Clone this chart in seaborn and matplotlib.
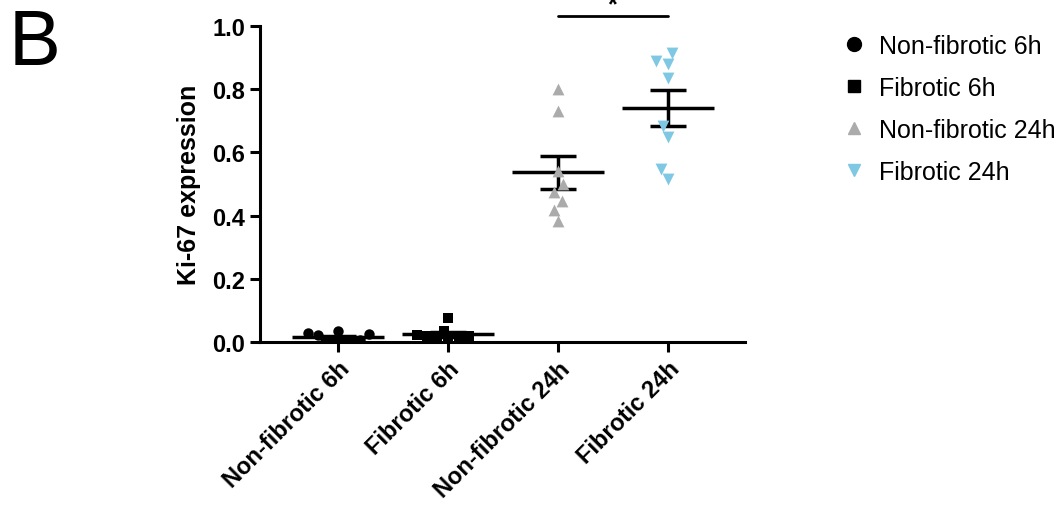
import numpy as np
import pandas as pd
import matplotlib
matplotlib.use("Agg")
import matplotlib.pyplot as plt
from matplotlib.lines import Line2D
import seaborn as sns

groups = ["Non-fibrotic 6h", "Fibrotic 6h", "Non-fibrotic 24h", "Fibrotic 24h"]
nonfib_6h = [0.0, 0.035, 0.022, 0.028, 0.005, 0.024, 0.004, 0.003]
fib_6h = [0.005, 0.036, 0.02, 0.075, 0.022, 0.02, 0.005, 0.01]
nonfib_24h = [0.80, 0.73, 0.54, 0.50, 0.475, 0.446, 0.418, 0.383]
fib_24h = [0.89, 0.88, 0.915, 0.835, 0.684, 0.65, 0.547, 0.516]

values = [nonfib_6h, fib_6h, nonfib_24h, fib_24h]
markers = ["o", "s", "^", "v"]
colors = ["black", "black", "#ababab", "#7ec8e3"]
sizes = [7.5, 7.5, 8.5, 8.5]

df = pd.concat([pd.DataFrame({"group": g, "ki67": v}) for g, v in zip(groups, values)])

sns.set_style("ticks")
plt.rcParams["font.family"] = ["Liberation Sans", "DejaVu Sans"]
plt.rcParams["text.color"] = "black"
plt.rcParams["axes.labelcolor"] = "black"
plt.rcParams["xtick.color"] = "black"
plt.rcParams["ytick.color"] = "black"

fig = plt.figure(figsize=(10.57, 5.06), dpi=100)
ax = fig.add_axes([0.246, 0.322, 0.459, 0.625])

for g, m, c, s in zip(groups, markers, colors, sizes):
    sns.swarmplot(data=df[df["group"] == g], x="group", y="ki67", order=groups,
                  marker=m, color=c, size=s, linewidth=0, ax=ax, zorder=5)

# mean +/- SEM
for i, v in enumerate(values):
    v = np.array(v)
    mean = v.mean()
    sem = v.std(ddof=1) / np.sqrt(len(v))
    ax.hlines(mean, i - 0.42, i + 0.42, color="black", lw=2.5, zorder=3)
    ax.errorbar(i, mean, yerr=sem, color="black", lw=2.5, capsize=13,
                capthick=2.5, zorder=3)

# significance bar
ax.plot([2, 3], [1.03, 1.03], color="black", lw=2, clip_on=False)
ax.text(2.5, 1.03, "*", ha="center", va="bottom", fontsize=18,
        fontweight="bold", clip_on=False)

ax.set_xlim(-0.71, 3.7)
ax.set_ylim(0, 1.0)
ax.set_yticks([0, 0.2, 0.4, 0.6, 0.8, 1.0])
ax.set_yticklabels(["0.0", "0.2", "0.4", "0.6", "0.8", "1.0"],
                   fontsize=17, fontweight="bold")
ax.set_xticks(range(len(groups)))
ax.set_xticklabels(groups, rotation=45, ha="right", rotation_mode="anchor",
                   fontsize=17, fontweight="bold")
ax.set_xlabel("")
ax.set_ylabel("Ki-67 expression", fontsize=18, fontweight="bold", labelpad=8)
ax.tick_params(width=2.2, length=7, color="black", labelcolor="black")
sns.despine(ax=ax)
for s in ["left", "bottom"]:
    ax.spines[s].set_linewidth(2.2)
    ax.spines[s].set_color("black")

handles = [Line2D([], [], marker=m, color=c, linestyle="none", markersize=10)
           for m, c in zip(markers, colors)]
handles[1].set_markersize(9)
handles[2].set_markersize(9)
handles[3].set_markersize(9)
fig.legend(handles, groups, loc="upper left", bbox_to_anchor=(0.775, 0.975),
           frameon=False, fontsize=18, handletextpad=0.5, labelspacing=0.72,
           handlelength=1.0, labelcolor="black")

fig.text(0.008, 0.985, "B", fontsize=56, va="top", ha="left", color="black")

fig.savefig("out.png", dpi=100)
